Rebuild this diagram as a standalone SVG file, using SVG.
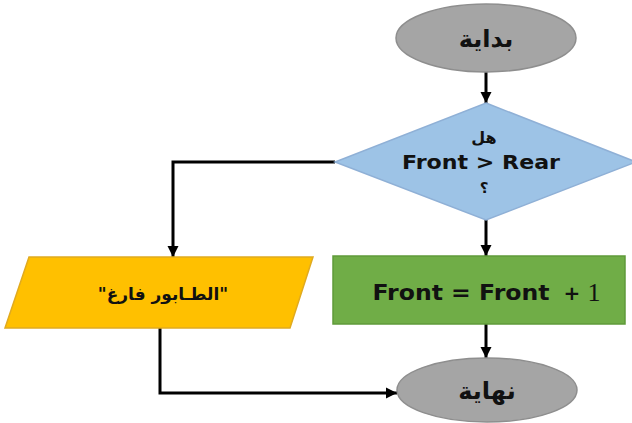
<svg xmlns="http://www.w3.org/2000/svg" width="632" height="423" viewBox="0 0 632 423">
  <style>
    .terminal { fill: #a5a5a5; stroke: #8e8e8e; stroke-width: 1.5; }
    .decision { fill: #9dc3e6; stroke: #8fb0d6; stroke-width: 1.5; }
    .process { fill: #70ad47; stroke: #5f9a3a; stroke-width: 1.5; }
    .io { fill: #ffc000; stroke: #e0aa20; stroke-width: 1.5; }
    .ar { font-family: "DejaVu Sans", sans-serif; font-weight: bold; fill: #111; text-anchor: middle; }
    .en { font-family: "DejaVu Sans", sans-serif; font-weight: bold; fill: #111; text-anchor: middle; }
    .link { fill: none; stroke: #000; stroke-width: 3; marker-end: url(#arrow); }
  </style>
  <defs>
    <marker id="arrow" markerUnits="userSpaceOnUse" markerWidth="12" markerHeight="12" refX="11" refY="6" orient="auto">
      <path d="M0,0.5 L11,6 L0,11.5 z" fill="#000"/>
    </marker>
  </defs>

  <rect width="632" height="423" fill="#fff"/>

  <!-- connectors -->
  <g id="connectors">
    <path class="link" d="M486,72 V103"/>
    <path class="link" d="M486,220 V256"/>
    <path class="link" d="M335,162 H173 V257"/>
    <path class="link" d="M486,324 V358"/>
    <path class="link" d="M160,328 V393 H397"/>
  </g>

  <!-- start -->
  <g id="start">
    <ellipse class="terminal" cx="486" cy="38" rx="90" ry="34"/>
    <text class="ar" x="486" y="47" font-size="24" direction="rtl">بداية</text>
  </g>

  <!-- decision -->
  <g id="decision">
    <polygon class="decision" points="486,103 636,162 486,220 335,162"/>
    <text class="ar" x="484" y="143" font-size="16" direction="rtl">هل</text>
    <text class="en" x="481" y="169" font-size="20" textLength="158" lengthAdjust="spacingAndGlyphs">Front &gt; Rear</text>
    <text class="ar" x="484" y="193" font-size="15" direction="rtl">؟</text>
  </g>

  <!-- process -->
  <g id="increment">
    <rect class="process" x="333" y="256" width="292" height="68"/>
    <text class="en" x="461" y="300" font-size="21" textLength="177" lengthAdjust="spacingAndGlyphs">Front = Front</text>
    <text class="en" x="572" y="300" font-size="20" font-weight="normal">+</text>
    <text x="594" y="301" font-family="Liberation Serif, serif" font-size="26" fill="#111" text-anchor="middle">1</text>
  </g>

  <!-- output -->
  <g id="empty-message">
    <polygon class="io" points="29,257 313,257 290,328 5,328"/>
    <text class="ar" x="163" y="300" font-size="17" direction="rtl">"الطـابور فارغ"</text>
  </g>

  <!-- end -->
  <g id="end">
    <ellipse class="terminal" cx="487" cy="390" rx="90" ry="32"/>
    <text class="ar" x="487" y="399" font-size="24" direction="rtl">نهاية</text>
  </g>
</svg>
